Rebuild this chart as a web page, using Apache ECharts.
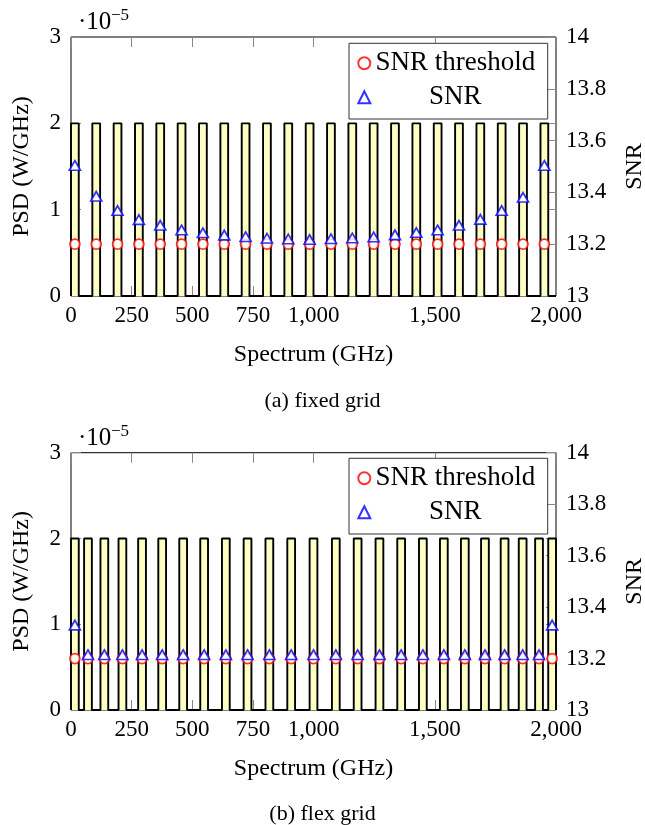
<!DOCTYPE html>
<html><head><meta charset="utf-8">
<script src="https://cdn.jsdelivr.net/npm/echarts@6/dist/echarts.min.js"></script>
<style>html,body{margin:0;padding:0;background:#fff}#c{width:645px;height:825px}</style>
</head><body><div id="c"></div>
<script>
// ---- data ----
const spectrumRange = [0, 2000];
const channelWidth = 32;          // GHz
const psdLevel = 2e-5;            // W/GHz
const snrThreshold = 13.2;
const xTicks = [0, 250, 500, 750, 1000, 1500, 2000];

const fixedCenters = [16, 104, 192, 280, 368, 456, 544, 632, 720, 808, 896, 984,
  1072, 1160, 1248, 1336, 1424, 1512, 1600, 1688, 1776, 1864, 1952];
const fixedSNR = [13.504, 13.385, 13.330, 13.295, 13.273, 13.255, 13.244, 13.235, 13.229, 13.223, 13.220, 13.218,
  13.221, 13.224, 13.228, 13.236, 13.245, 13.255, 13.273, 13.296, 13.330, 13.381, 13.504];

const flexCenters = [16, 70, 137.5, 212, 293, 376, 462.5, 549, 638.5, 728, 818, 908, 1000,
  1092, 1182, 1272, 1361.5, 1451, 1537.5, 1624, 1707, 1788, 1862.5, 1930, 1984];
const flexSNR = [13.330, 13.215, 13.215, 13.215, 13.215, 13.215, 13.215, 13.215, 13.215, 13.215, 13.215, 13.215, 13.215,
  13.215, 13.215, 13.215, 13.215, 13.215, 13.215, 13.215, 13.215, 13.215, 13.215, 13.215, 13.330];

// ---- helpers ----
const FONT = '"Liberation Serif", "DejaVu Serif", serif';
const tickColor = '#888';
function psdSteps(centers) {
  const pts = [[spectrumRange[0], 0]];
  centers.forEach(c => {
    const a = c - channelWidth / 2, b = c + channelWidth / 2;
    pts.push([a, 0], [a, psdLevel], [b, psdLevel], [b, 0]);
  });
  pts.push([spectrumRange[1], 0]);
  return pts;
}
function fmtX(v) { return v >= 1000 ? Math.floor(v / 1000) + ',' + String(v % 1000).padStart(3, '0') : String(v); }

const LEG_FS = 27;
const ctx = document.createElement('canvas').getContext('2d');
ctx.font = LEG_FS + 'px ' + FONT;
const legTextW = Math.ceil(ctx.measureText('SNR threshold').width);

const grids = [
  { top: 37, height: 259, caption: '(a) fixed grid', capTop: 390, centers: fixedCenters, snr: fixedSNR, legTop: 43.3 },
  { top: 452.7, height: 257.3, caption: '(b) flex grid', capTop: 803, centers: flexCenters, snr: flexSNR, legTop: 458.3 }
];

const option = {
  animation: false,
  backgroundColor: '#fff',
  title: [], grid: [], xAxis: [], yAxis: [], series: [], legend: [], graphic: []
};

const lbl = { color: '#000', fontFamily: FONT, fontSize: 23 };
const nameLbl = { color: '#000', fontFamily: FONT, fontSize: 24 };
const tick = { inside: true, length: 10, lineStyle: { color: tickColor, width: 1 } };

grids.forEach((g, gi) => {
  option.grid.push({ left: 71, right: 89, top: g.top, height: g.height, show: true,
    containLabel: false, outerBoundsMode: 'none',
    borderColor: '#000', borderWidth: 1, backgroundColor: 'transparent' });
  option.title.push({ text: g.caption, left: 'center', top: g.capTop, padding: 0,
    textStyle: { color: '#000', fontFamily: FONT, fontSize: 22, fontWeight: 'normal' } });

  // x axes: bottom (labelled), top (mirror ticks)
  option.xAxis.push({ gridIndex: gi, type: 'value', min: spectrumRange[0], max: spectrumRange[1], position: 'bottom',
    axisLine: { show: false, onZero: false }, splitLine: { show: false },
    axisTick: Object.assign({ customValues: xTicks }, tick),
    axisLabel: Object.assign({ customValues: xTicks, formatter: fmtX, margin: 8 }, lbl),
    name: 'Spectrum (GHz)', nameLocation: 'middle', nameGap: 47, nameTextStyle: nameLbl });
  option.xAxis.push({ gridIndex: gi, type: 'value', min: spectrumRange[0], max: spectrumRange[1], position: 'top',
    axisLine: { show: false, onZero: false }, splitLine: { show: false },
    axisTick: Object.assign({ customValues: xTicks }, tick), axisLabel: { show: false } });

  // y axes: PSD left, PSD mirror right, SNR right
  option.yAxis.push({ gridIndex: gi, type: 'value', min: 0, max: 3e-5, interval: 1e-5, position: 'left',
    axisLine: { show: false, onZero: false }, splitLine: { show: false }, axisTick: tick,
    axisLabel: Object.assign({ formatter: v => String(Math.round(v / 1e-5)), margin: 10 }, lbl),
    name: 'PSD (W/GHz)', nameLocation: 'middle', nameRotate: 90, nameGap: 37, nameTextStyle: nameLbl });
  option.yAxis.push({ gridIndex: gi, type: 'value', min: 0, max: 3e-5, interval: 1e-5, position: 'right',
    axisLine: { show: false, onZero: false }, splitLine: { show: false }, axisTick: tick, axisLabel: { show: false } });
  option.yAxis.push({ gridIndex: gi, type: 'value', min: 13, max: 14, interval: 0.2, position: 'right',
    axisLine: { show: false, onZero: false }, splitLine: { show: false }, axisTick: tick,
    axisLabel: Object.assign({ formatter: v => String(Number(v.toFixed(1))), margin: 10 }, lbl),
    name: 'SNR', nameLocation: 'middle', nameRotate: 90, nameGap: 67, nameTextStyle: nameLbl });

  const xi = gi * 2, yi = gi * 3;
  option.series.push({ name: 'PSD', type: 'line', xAxisIndex: xi, yAxisIndex: yi, data: psdSteps(g.centers),
    symbol: 'none', clip: false, lineStyle: { color: '#000', width: 1.9 },
    areaStyle: { color: '#ffffc4', opacity: 1 }, silent: true, z: 1 });
  option.series.push({ name: 'SNR threshold', type: 'scatter', xAxisIndex: xi, yAxisIndex: yi + 2,
    data: g.centers.map(c => [c, snrThreshold]), symbol: 'circle', symbolSize: 10,
    itemStyle: { color: '#fff', borderColor: '#ff0000', borderWidth: 1.7 }, z: 3 });
  option.series.push({ name: 'SNR', type: 'scatter', xAxisIndex: xi, yAxisIndex: yi + 2,
    data: g.centers.map((c, i) => [c, g.snr[i]]), symbol: 'triangle', symbolSize: [11, 9.5],
    itemStyle: { color: '#fff', borderColor: '#0000ff', borderWidth: 1.7 }, z: 4 });

  const lh = 32;
  option.legend.push({ data: ['SNR threshold', 'SNR'], orient: 'vertical', left: 349, top: g.legTop,
    padding: [20 - lh / 2, Math.max(4, 546.7 - 374.3 - legTextW), 21.7 - lh / 2, 8.3], itemGap: 34 - lh,
    itemWidth: 12, itemHeight: 12,
    borderColor: '#333', borderWidth: 1, borderRadius: 0, backgroundColor: '#fff', selectedMode: false,
    formatter: n => '{c|' + n + '}',
    textStyle: { color: '#000', fontFamily: FONT, fontSize: LEG_FS, lineHeight: lh,
      rich: { c: { width: legTextW, align: 'center', fontFamily: FONT, fontSize: LEG_FS, lineHeight: lh, color: '#000' } } } });

  const dy = g.top - 37;
  option.graphic.push({ type: 'text', x: 78, y: 22.5 + dy, style: { text: '·10', fontFamily: FONT, fontSize: 25, fill: '#000', verticalAlign: 'middle' } });
  option.graphic.push({ type: 'text', x: 111, y: 16 + dy, style: { text: '−5', fontFamily: FONT, fontSize: 17, fill: '#000', verticalAlign: 'middle' } });
});

const chart = echarts.init(document.getElementById('c'), null, { renderer: 'canvas' });
chart.setOption(option);
</script></body></html>
